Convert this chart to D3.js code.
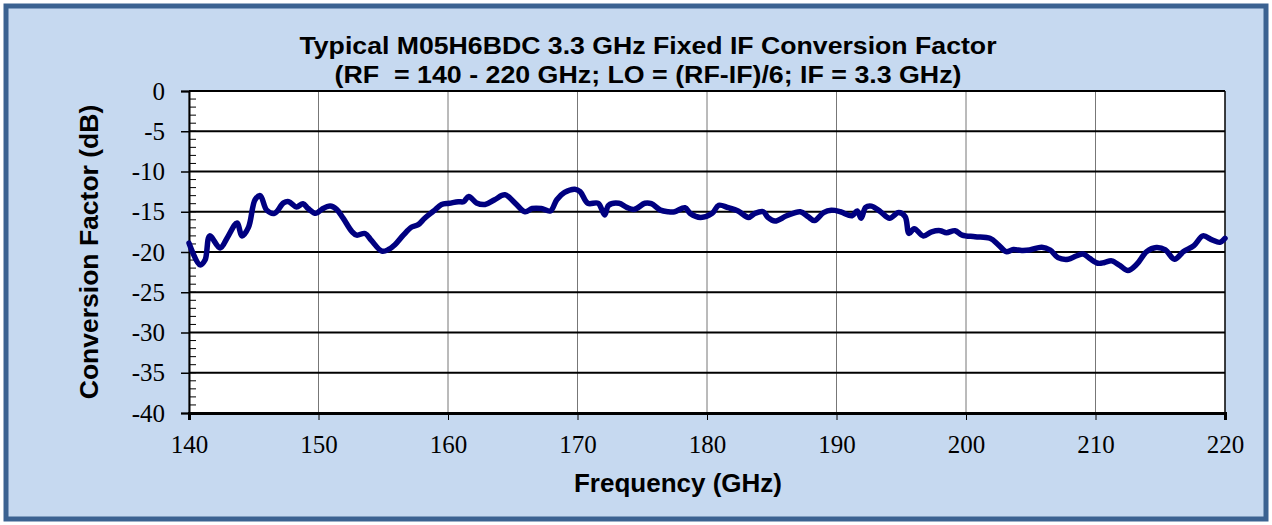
<!DOCTYPE html>
<html>
<head>
<meta charset="utf-8">
<script src="https://cdn.jsdelivr.net/npm/d3@7"></script>
<style>
  body { margin: 0; background: #fff; }
  svg { display: block; }
  .title { white-space: pre; }
  .tick text { font-family: "Liberation Serif", "Times New Roman", serif; font-size: 25px; }
</style>
</head>
<body>
<div id="chart"></div>
<script>
// Typical M05H6BDC conversion factor chart

const width = 1272;
const height = 525;
const margin = { left: 189, right: 47, top: 91, bottom: 112 };

// Data
const freqGHz = [140, 140.85, 141.24, 141.6, 142.4, 143.0, 143.7, 144.1, 144.6, 145.1,
  145.5, 146.0, 146.6, 147.3, 147.7, 148.3, 148.8, 149.2, 149.8, 150.25,
  150.9, 151.4, 151.9, 152.6, 152.95, 153.6, 154.1, 154.9, 155.4, 155.9,
  156.55, 157.2, 157.7, 158.2, 158.9, 159.5, 160.1, 160.8, 161.2, 161.6,
  162.2, 162.86, 163.6, 164.4, 165.2, 165.95, 166.5, 167.2, 167.9, 168.4,
  169.0, 169.8, 170.2, 170.8, 171.6, 172.1, 172.4, 173.2, 173.8, 174.4,
  175.2, 175.7, 176.4, 177.0, 177.5, 178.3, 178.7, 179.5, 180.4, 180.9,
  181.65, 182.4, 183.2, 183.7, 184.35, 184.7, 185.25, 186.15, 187.2, 187.8,
  188.3, 189.0, 189.6, 190.3, 191.2, 191.6, 191.9, 192.25, 192.7, 193.4,
  194.1, 194.8, 195.3, 195.6, 196.0, 196.7, 197.35, 198.0, 198.5, 199.15,
  199.7, 200.7, 201.85, 202.5, 203.1, 203.65, 204.3, 204.9, 205.85, 206.5,
  207.1, 207.9, 208.5, 209.05, 209.55, 210.2, 210.7, 211.25, 211.9, 212.5,
  213.2, 213.95, 214.7, 215.4, 216.1, 216.8, 217.6, 218.3, 219.0, 219.6,
  220];

const convFactor = [-18.9, -21.6, -21.0, -18.0, -19.5, -18.1, -16.4, -18.0, -16.9, -13.5,
  -13.0, -14.8, -15.2, -13.9, -13.75, -14.4, -14.0, -14.6, -15.2, -14.7,
  -14.3, -14.7, -15.8, -17.5, -17.9, -17.7, -18.6, -19.9, -19.7, -19.1,
  -17.9, -16.9, -16.6, -15.8, -14.9, -14.1, -13.95, -13.75, -13.75, -13.1,
  -13.9, -14.1, -13.5, -12.9, -13.95, -15.0, -14.6, -14.6, -14.9, -13.5,
  -12.6, -12.2, -12.5, -13.95, -13.95, -15.4, -14.2, -13.95, -14.45, -14.7,
  -13.95, -14.0, -14.8, -15.0, -15.0, -14.5, -15.2, -15.7, -15.2, -14.2,
  -14.5, -14.9, -15.7, -15.2, -15.0, -15.7, -16.15, -15.5, -15.0, -15.6,
  -16.1, -15.1, -14.8, -15.0, -15.5, -14.9, -15.8, -14.45, -14.3, -15.0,
  -15.8, -15.1, -15.6, -17.7, -17.1, -18.0, -17.5, -17.35, -17.6, -17.35,
  -17.9, -18.1, -18.3, -19.1, -19.95, -19.7, -19.8, -19.75, -19.4, -19.75,
  -20.7, -20.9, -20.5, -20.25, -20.8, -21.4, -21.3, -21.1, -21.7, -22.3,
  -21.5, -19.95, -19.45, -19.75, -20.9, -19.95, -19.2, -18.0, -18.5, -18.8,
  -18.3];

const xTicks = [140, 150, 160, 170, 180, 190, 200, 210, 220];
const yTicks = [0, -5, -10, -15, -20, -25, -30, -35, -40];
const yMinorTicks = d3.range(-40, 1, 1);

const titleLines = [
  "Typical M05H6BDC 3.3 GHz Fixed IF Conversion Factor",
  "(RF  = 140 - 220 GHz; LO = (RF-IF)/6; IF = 3.3 GHz)"
];
const titleWidths = [697, 627];
const xTitle = "Frequency (GHz)";
const yTitle = "Conversion Factor (dB)";

const points = freqGHz.map((f, i) => ({ f: f, v: convFactor[i] }));

const sans = "'Liberation Sans', Arial, sans-serif";

const svg = d3.select("#chart")
  .append("svg")
  .attr("width", width)
  .attr("height", height);

// background panel with dark blue frame
svg.append("rect")
  .attr("x", 6).attr("y", 6)
  .attr("width", width - 12).attr("height", height - 12)
  .attr("fill", "#c6d9f0")
  .attr("stroke", "#3b6291")
  .attr("stroke-width", 5);

// scales
const x = d3.scaleLinear()
  .domain([140, 220])
  .range([margin.left, width - margin.right]);

const y = d3.scaleLinear()
  .domain([-40, 0])
  .range([height - margin.bottom, margin.top]);

// plot area
svg.append("rect")
  .attr("x", x(140)).attr("y", y(0))
  .attr("width", x(220) - x(140)).attr("height", y(-40) - y(0))
  .attr("fill", "#ffffff");

// vertical grid lines
svg.append("g")
  .selectAll("line")
  .data(xTicks)
  .join("line")
  .attr("x1", d => x(d)).attr("x2", d => x(d))
  .attr("y1", y(0)).attr("y2", y(-40))
  .attr("stroke", d => d === 220 ? "#000" : "#777")
  .attr("stroke-width", d => d === 220 ? 1.5 : 1);

// horizontal grid lines
svg.append("g")
  .selectAll("line")
  .data(yTicks)
  .join("line")
  .attr("x1", x(140)).attr("x2", x(220))
  .attr("y1", d => y(d)).attr("y2", d => y(d))
  .attr("stroke", "#000")
  .attr("stroke-width", 2);

// y minor ticks (inside)
svg.append("g")
  .selectAll("line")
  .data(yMinorTicks)
  .join("line")
  .attr("x1", x(140)).attr("x2", x(140) + 7)
  .attr("y1", d => y(d)).attr("y2", d => y(d))
  .attr("stroke", "#000")
  .attr("stroke-width", 1);

// y axis
const yAxis = svg.append("g")
  .attr("transform", `translate(${x(140)},0)`)
  .call(d3.axisLeft(y).tickValues(yTicks).tickSize(8).tickPadding(16));
yAxis.attr("font-family", null).attr("font-size", null);
yAxis.select(".domain").attr("stroke", "#000").attr("stroke-width", 2);
yAxis.selectAll(".tick line").attr("stroke-width", 1.5);
yAxis.selectAll("text")
  .attr("fill", "#000")
  .text(d => d === 0 ? "0" : "-" + Math.abs(d));

// x axis
const xAxis = svg.append("g")
  .attr("transform", `translate(0,${y(-40)})`)
  .call(d3.axisBottom(x).tickValues(xTicks).tickSize(7).tickPadding(15));
xAxis.attr("font-family", null).attr("font-size", null);
xAxis.select(".domain").attr("stroke", "#000").attr("stroke-width", 3);
xAxis.selectAll(".tick line").attr("stroke-width", 1);
xAxis.selectAll("text").attr("fill", "#000");

// the data line
const line = d3.line()
  .x(d => x(d.f))
  .y(d => y(d.v))
  .curve(d3.curveCatmullRom.alpha(0.5));

svg.append("path")
  .datum(points)
  .attr("fill", "none")
  .attr("stroke", "#000080")
  .attr("stroke-width", 5.5)
  .attr("stroke-linejoin", "round")
  .attr("stroke-linecap", "round")
  .attr("d", line);

// titles
svg.selectAll(".title")
  .data(titleLines)
  .join("text")
  .attr("class", "title")
  .attr("x", (d, i) => 648 - titleWidths[i] / 2)
  .attr("y", (d, i) => 54 + i * 29)
  .attr("textLength", (d, i) => titleWidths[i])
  .attr("lengthAdjust", "spacingAndGlyphs")
  .attr("font-family", sans)
  .attr("font-weight", "bold")
  .attr("font-size", "24px")
  .attr("fill", "#000")
  .text(d => d);

svg.append("text")
  .attr("x", 678)
  .attr("y", 492)
  .attr("text-anchor", "middle")
  .attr("font-family", sans)
  .attr("font-weight", "bold")
  .attr("font-size", "26px")
  .attr("fill", "#000")
  .text(xTitle);

svg.append("text")
  .attr("transform", `translate(98,${(y(0) + y(-40)) / 2}) rotate(-90)`)
  .attr("text-anchor", "middle")
  .attr("font-family", sans)
  .attr("font-weight", "bold")
  .attr("font-size", "26.5px")
  .attr("fill", "#000")
  .text(yTitle);
</script>
</body>
</html>
